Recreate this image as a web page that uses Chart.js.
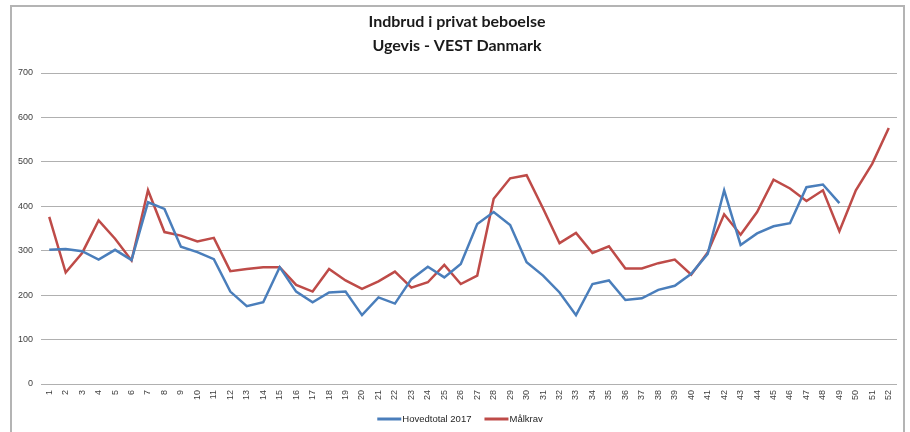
<!DOCTYPE html>
<html>
<head>
<meta charset="utf-8">
<script src="https://cdn.jsdelivr.net/npm/chart.js@4/dist/chart.umd.min.js"></script>
<style>
  html, body { margin: 0; padding: 0; background: #fff; }
  #wrap { width: 910px; height: 432px; position: relative; }
</style>
</head>
<body>
<div id="wrap"><canvas id="chart"></canvas></div>
<script>
// Uger 1-52
const weeks = Array.from({ length: 52 }, (_, i) => String(i + 1));

// Hovedtotal 2017 (data until week 49)
const hovedtotal = [
  302, 304, 299, 280, 302, 279, 409, 394, 309, 297,
  281, 208, 175, 184, 263, 208, 184, 206, 208, 155,
  195, 181, 236, 264, 240, 270, 360, 387, 358, 274,
  244, 206, 155, 225, 233, 189, 193, 212, 221, 248,
  293, 436, 313, 339, 355, 362, 443, 449, 407, null,
  null, null
];

// Målkrav
const maalkrav = [
  376, 251, 295, 368, 327, 278, 436, 342, 334, 321,
  329, 254, 259, 263, 263, 223, 208, 259, 233, 214,
  231, 253, 217, 229, 268, 225, 244, 417, 463, 470,
  395, 317, 340, 295, 310, 260, 260, 272, 280, 246,
  296, 382, 336, 387, 460, 440, 412, 436, 344, 436,
  496, 576
];

const titleLines = ['Indbrud i privat beboelse', 'Ugevis - VEST Danmark'];
const yTicks = [0, 100, 200, 300, 400, 500, 600, 700];

const BLUE = '#4a7ebb';
const RED = '#be4b48';

// frame, title and legend drawn by hand, like the Excel chart object
const framePlugin = {
  id: 'frame',
  beforeDraw(chart) {
    const ctx = chart.ctx;
    ctx.save();
    ctx.strokeStyle = '#b4b4b4';
    ctx.lineWidth = 2;
    ctx.beginPath();
    ctx.moveTo(11, 440);
    ctx.lineTo(11, 6);
    ctx.lineTo(904, 6);
    ctx.lineTo(904, 440);
    ctx.stroke();

    ctx.fillStyle = '#1a1a1a';
    ctx.font = 'bold 16px Lato, "Open Sans", sans-serif';
    ctx.textAlign = 'center';
    ctx.textBaseline = 'middle';
    ctx.fillText(titleLines[0], 457, 22);
    ctx.fillText(titleLines[1], 457, 46);
    ctx.restore();
  },
  afterDraw(chart) {
    const ctx = chart.ctx;
    const sets = chart.data.datasets;
    const lineW = 24, gap = 13, y = 419;
    ctx.save();
    ctx.font = '9.5px "Liberation Sans", Arial, sans-serif';
    ctx.textBaseline = 'middle';
    ctx.textAlign = 'left';
    const widths = sets.map(d => lineW + 1 + ctx.measureText(d.label).width);
    const total = widths.reduce((a, b) => a + b, 0) + gap * (sets.length - 1);
    let x = 460 - total / 2;
    sets.forEach((d, i) => {
      ctx.strokeStyle = d.borderColor;
      ctx.lineWidth = 3;
      ctx.beginPath();
      ctx.moveTo(x, y);
      ctx.lineTo(x + lineW, y);
      ctx.stroke();
      ctx.fillStyle = '#262626';
      ctx.fillText(d.label, x + lineW + 1, y);
      x += widths[i] + gap;
    });
    ctx.restore();
  }
};

new Chart(document.getElementById('chart'), {
  type: 'line',
  data: {
    labels: weeks,
    datasets: [
      {
        label: 'Hovedtotal 2017',
        data: hovedtotal,
        borderColor: BLUE,
        backgroundColor: BLUE,
        borderWidth: 2.5,
        pointRadius: 0,
        tension: 0,
        spanGaps: false
      },
      {
        label: 'Målkrav',
        data: maalkrav,
        borderColor: RED,
        backgroundColor: RED,
        borderWidth: 2.5,
        pointRadius: 0,
        tension: 0
      }
    ]
  },
  options: {
    responsive: true,
    maintainAspectRatio: false,
    animation: false,
    layout: { padding: { top: 73, left: 0, right: 13, bottom: 30 } },
    plugins: {
      legend: { display: false },
      title: { display: false },
      tooltip: { enabled: false }
    },
    scales: {
      x: {
        offset: true,
        grid: { display: false, drawTicks: false },
        border: { display: false },
        ticks: {
          autoSkip: false,
          maxRotation: 90,
          minRotation: 90,
          padding: 6,
          color: '#404040',
          font: { family: '"Liberation Sans", Arial, sans-serif', size: 9 }
        },
        afterFit(scale) { scale.height = 18; }
      },
      y: {
        min: 0,
        max: 700,
        afterBuildTicks(scale) { scale.ticks = yTicks.map(v => ({ value: v })); },
        grid: { color: '#b0b0b0', lineWidth: 1, drawTicks: false },
        border: { display: false },
        ticks: {
          padding: 8,
          color: '#404040',
          font: { family: '"Liberation Sans", Arial, sans-serif', size: 9 }
        },
        afterFit(scale) { scale.width = 41; }
      }
    }
  },
  plugins: [framePlugin]
});
</script>
</body>
</html>
